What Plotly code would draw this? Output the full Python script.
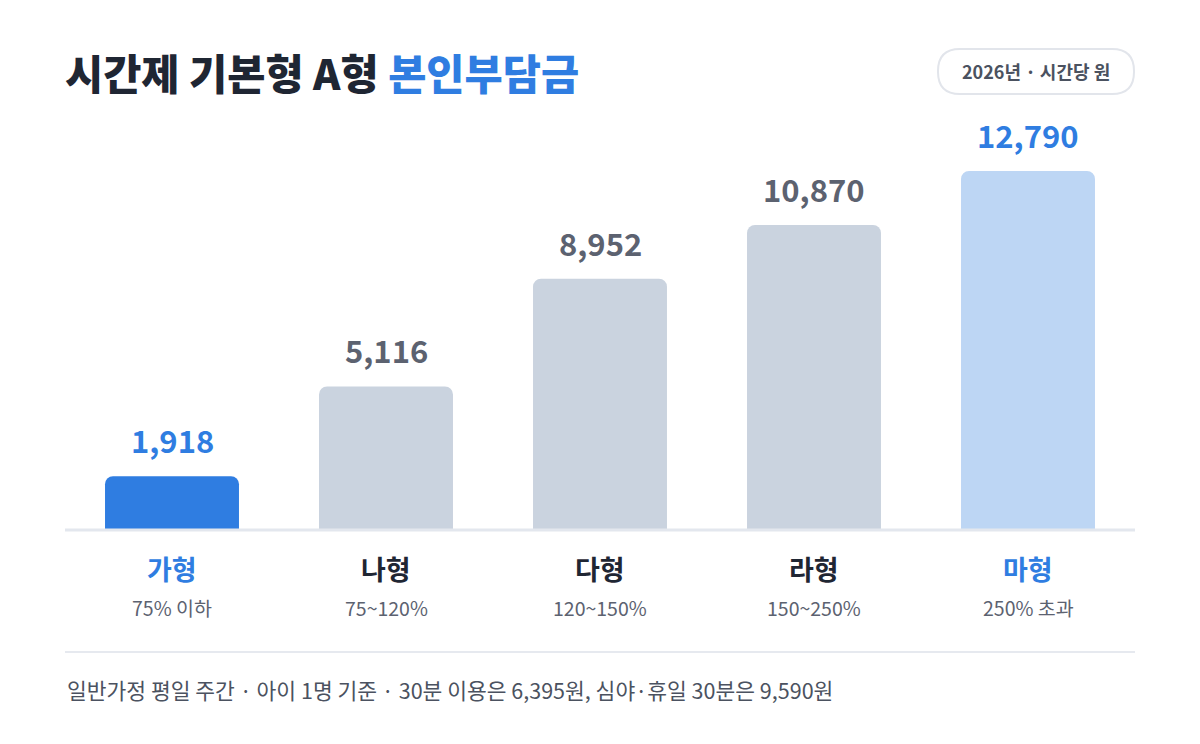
import plotly.graph_objects as go

# data
categories = ["가형", "나형", "다형", "라형", "마형"]
ranges = ["75% 이하", "75~120%", "120~150%", "150~250%", "250% 초과"]
values = [1918, 5116, 8952, 10870, 12790]
bar_colors = ["#2F7DE1", "#CAD3DF", "#CAD3DF", "#CAD3DF", "#BDD6F4"]
label_colors = ["#2F7DE1", "#5C6270", "#5C6270", "#5C6270", "#2F7DE1"]
name_colors = ["#2F7DE1", "#1F2633", "#1F2633", "#1F2633", "#2F7DE1"]

FONT = "Noto Sans CJK KR"

# page body has an 8px margin, so the plot box is offset by that
PL, PT, PW, PH = 57, 102, 1070, 420


def px_x(x):
    return (x - 8 - PL) / PW


def px_y(y):
    return (PT + PH - (y - 8)) / PH


fig = go.Figure()
fig.add_trace(go.Bar(
    x=categories, y=values,
    marker=dict(color=bar_colors, line=dict(width=0), cornerradius=8),
    hoverinfo="skip",
))

# value labels above bars
for cat, val, col in zip(categories, values, label_colors):
    fig.add_annotation(x=cat, y=val, xref="x", yref="y", text="{:,}".format(val),
                       showarrow=False, yanchor="bottom", yshift=12,
                       font=dict(family=FONT, size=31, color=col, weight=700))

# category names + income ranges under the baseline
for cat, rng, col in zip(categories, ranges, name_colors):
    fig.add_annotation(x=cat, y=0, xref="x", yref="paper", text="<b>" + cat + "</b>",
                       showarrow=False, yanchor="middle", yshift=-38,
                       font=dict(family=FONT, size=27, color=col))
    fig.add_annotation(x=cat, y=0, xref="x", yref="paper", text=rng,
                       showarrow=False, yanchor="middle", yshift=-77,
                       font=dict(family=FONT, size=19.5, color="#5C6270"))

# baseline and footer separator
fig.add_shape(type="line", xref="paper", yref="paper", x0=0, x1=1, y0=0, y1=0,
              line=dict(color="#E3E7EE", width=3))
fig.add_shape(type="line", xref="paper", yref="paper", x0=0, x1=1, y0=px_y(652), y1=px_y(652),
              line=dict(color="#E6E9EF", width=2))

# title
fig.add_annotation(xref="paper", yref="paper", x=0, y=px_y(72), xanchor="left", yanchor="middle",
                   xshift=-2,
                   text="시간제 기본형 A형 <span style='color:#2F7DE1'>본인부담금</span>",
                   showarrow=False, font=dict(family=FONT, size=41.5, color="#1F2633", weight=900))

# unit badge (rounded pill)
bx0, bx1, by0, by1, r = 938, 1134, 49, 94, 22
x0, x1, y0, y1 = px_x(bx0), px_x(bx1), px_y(by1), px_y(by0)
rx, ry = r / PW, r / PH
pill = ("M {a},{y0} L {b},{y0} Q {x1},{y0} {x1},{c} L {x1},{d} Q {x1},{y1} {b},{y1} "
        "L {a},{y1} Q {x0},{y1} {x0},{d} L {x0},{c} Q {x0},{y0} {a},{y0} Z").format(
    a=x0 + rx, b=x1 - rx, c=y0 + ry, d=y1 - ry, x0=x0, x1=x1, y0=y0, y1=y1)
fig.add_shape(type="path", xref="paper", yref="paper", path=pill,
              line=dict(color="#E2E5EB", width=2), fillcolor="white")
fig.add_annotation(xref="paper", yref="paper", x=px_x(1036), y=px_y(71),
                   xanchor="center", yanchor="middle",
                   text="2026년 · 시간당 원", showarrow=False,
                   font=dict(family=FONT, size=18, color="#4B5260", weight=600))

# footer note
fig.add_annotation(xref="paper", yref="paper", x=0, y=px_y(689), xanchor="left", yanchor="middle",
                   text="일반가정 평일 주간 · 아이 1명 기준 · 30분 이용은 6,395원, 심야·휴일 30분은 9,590원",
                   showarrow=False, font=dict(family=FONT, size=21.5, color="#4B5260"))

fig.update_layout(
    width=1200, height=744,
    margin=dict(l=PL, r=1200 - PL - PW, t=PT, b=744 - PT - PH),
    plot_bgcolor="white", paper_bgcolor="white",
    showlegend=False, bargap=0.374,
    font=dict(family=FONT),
    xaxis=dict(showticklabels=False, showgrid=False, zeroline=False, showline=False, fixedrange=True),
    yaxis=dict(range=[0, 14963], visible=False, fixedrange=True),
)

fig.write_html("out.html")
